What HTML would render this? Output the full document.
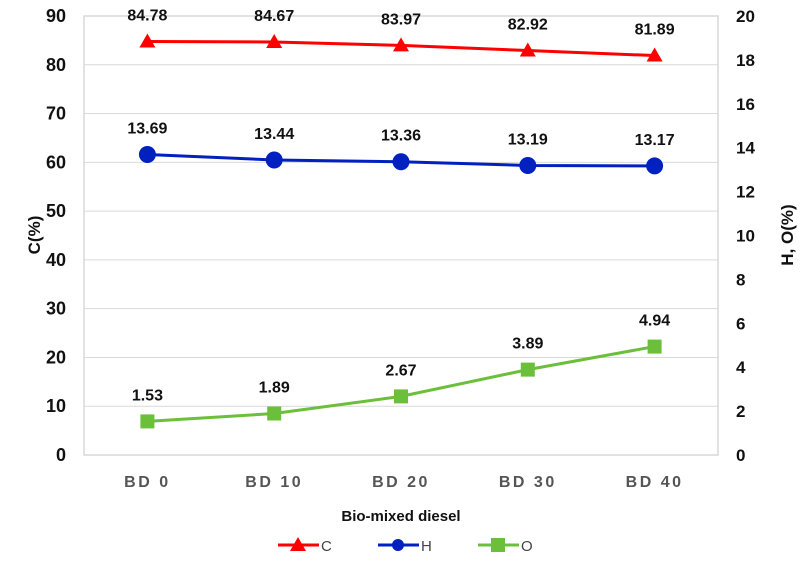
<!DOCTYPE html>
<html><head><meta charset="utf-8"><style>
body{margin:0;background:#fff;}
svg text{font-family:"Liberation Sans",Arial,sans-serif;font-weight:bold;fill:#111;}
</style></head><body>
<svg id="chart" width="800" height="577" xmlns="http://www.w3.org/2000/svg"></svg>
<script>
const categories=["BD 0","BD 10","BD 20","BD 30","BD 40"];
const cValues=[84.78,84.67,83.97,82.92,81.89];
const hValues=[13.69,13.44,13.36,13.19,13.17];
const oValues=[1.53,1.89,2.67,3.89,4.94];
const leftTicks=[0,10,20,30,40,50,60,70,80,90];
const rightTicks=[0,2,4,6,8,10,12,14,16,18,20];
const NS="http://www.w3.org/2000/svg";
const svg=document.getElementById('chart');
const L=84,R=718,T=16,B=455;
const xs=i=>L+(R-L)/categories.length*(i+0.5);
const yL=v=>B-(v/90)*(B-T);
const yR=v=>B-(v/20)*(B-T);
function mk(tag,attrs,parent){const e=document.createElementNS(NS,tag);for(const k in attrs)e.setAttribute(k,attrs[k]);(parent||svg).appendChild(e);return e;}
function txt(s,attrs){const e=mk('text',attrs);e.textContent=s;return e;}
leftTicks.forEach(v=>{const g=mk('line',{x1:L,x2:R,y1:yL(v),y2:yL(v),stroke:'#d9d9d9','stroke-width':1});


const t=txt(v,{x:66,y:yL(v)+6,'text-anchor':'end','font-size':18});

});
rightTicks.forEach(v=>{const t=txt(v,{x:736,y:yR(v)+6,'text-anchor':'start','font-size':17});

});
const fr=mk('rect',{x:L,y:T,width:R-L,height:B-T,fill:'none',stroke:'#d9d9d9','stroke-width':1.5});


categories.forEach((c,i)=>{const t=txt(c,{x:xs(i),y:487,'text-anchor':'middle','font-size':16,'letter-spacing':'2.5',style:'fill:#555'});

});
let t1=txt('Bio-mixed diesel',{x:401,y:521,'text-anchor':'middle','font-size':15});

let t2=txt('C(%)',{x:0,y:0,'text-anchor':'middle','font-size':17,transform:'translate(40,235) rotate(-90)'});

let t3=txt('H, O(%)',{x:0,y:0,'text-anchor':'middle','font-size':17,transform:'translate(793,235) rotate(-90)'});

function marker(type,x,y,color){
 if(type==='tri')return mk('polygon',{points:`${x},${y-8} ${x-8},${y+6} ${x+8},${y+6}`,fill:color});
 if(type==='circ')return mk('circle',{cx:x,cy:y,r:8.5,fill:color});
 return mk('rect',{x:x-7,y:y-7,width:14,height:14,fill:color});
}
function series(name,vals,yf,color,type){
 const pts=vals.map((v,i)=>xs(i)+','+yf(v)).join(' ');
 const pl=mk('polyline',{points:pts,fill:'none',stroke:color,'stroke-width':3});
 
 
 vals.forEach((v,i)=>{const m=marker(type,xs(i),yf(v),color);
 
 
 const t=txt(v.toFixed(2),{x:xs(i),y:yf(v)-21,'text-anchor':'middle','font-size':16});
 
 });
}
series('c',cValues,yL,'#ff0000','tri');
series('h',hValues,yR,'#0020c0','circ');
series('o',oValues,yR,'#6cbf3a','sq');
[['C','#ff0000','tri',278],['H','#0020c0','circ',378],['O','#6cbf3a','sq',478]].forEach(([n,c,t,x])=>{
 const l=mk('line',{x1:x,x2:x+41,y1:545,y2:545,stroke:c,'stroke-width':3});
 
 
 const m=marker(t,x+20,545,c);
 if(t==='circ')m.setAttribute('r',6);
 
 
 const tx=txt(n,{x:x+43,y:551,'font-size':15,style:'font-weight:normal;fill:#444'});
 
 
});
</script>
</body></html>
